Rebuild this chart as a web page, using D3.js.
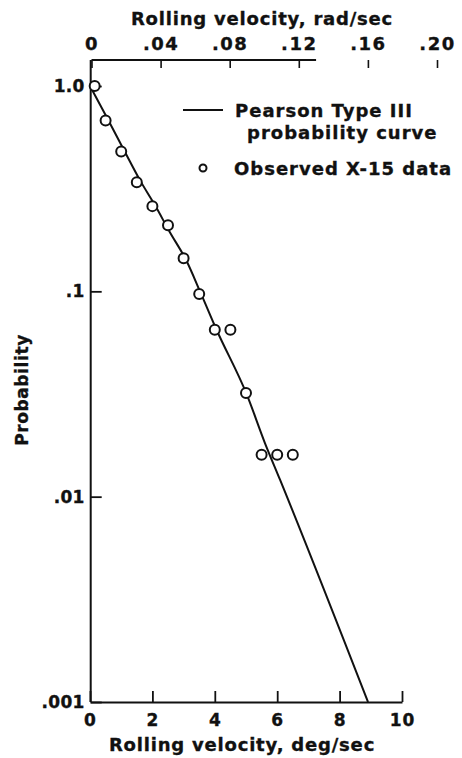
<!DOCTYPE html>
<html><head><meta charset="utf-8">
<script src="https://cdn.jsdelivr.net/npm/d3@7"></script>
<style>
body{margin:0;background:#fff}
text{font-family:"DejaVu Sans",sans-serif;font-weight:bold;fill:#111;stroke:#111;stroke-width:0.35px}
</style>
</head><body><svg id="c" width="462" height="758"></svg>
<script>
// Observed X-15 data (rolling velocity deg/sec, probability)
const obsDeg  = [0.15, 0.5, 1.0, 1.5, 2.0, 2.5, 3.0, 3.5, 4.0, 4.5, 5.0, 5.5, 6.0, 6.5];
const obsProb = [1.0, 0.68, 0.48, 0.34, 0.26, 0.21, 0.145, 0.097, 0.065, 0.065, 0.032, 0.016, 0.016, 0.016];
// Pearson Type III probability curve
const curveDeg  = [0, 0.55, 1.12, 1.6, 2.08, 2.56, 3.08, 3.55, 4.06, 5.03, 5.61, 6.09, 8.91];
const curveProb = [1.0, 0.698, 0.477, 0.348, 0.263, 0.194, 0.142, 0.098, 0.0648, 0.0313, 0.0182, 0.0121, 0.001];
// ticks
const bottomTicks = [0, 2, 4, 6, 8, 10];
const topTicks = [0, 0.04, 0.08, 0.12, 0.16, 0.20];
const topTickLabels = ["0", ".04", ".08", ".12", ".16", ".20"];
const yTicks = [1, 0.1, 0.01, 0.001];
const yTickLabels = ["1.0", ".1", ".01", ".001"];
const legendLabels = ["Pearson Type III", "probability curve", "Observed X-15 data"];

const svg = d3.select("#c");
const x = d3.scaleLinear().domain([0, 10]).range([90, 402]);
const xTop = d3.scaleLinear().domain([0, 0.20]).range([91.5, 437]);
const y = d3.scaleLog().domain([0.001, 1]).range([702, 86]);
const stroke = "#111";

// bottom axis
const gB = svg.append("g").attr("transform", `translate(0,${y(0.001)})`)
  .call(d3.axisBottom(x).tickValues(bottomTicks).tickSizeInner(-11).tickSizeOuter(0).tickPadding(12).tickFormat(d3.format("d")));
gB.select(".domain").attr("stroke", stroke).attr("stroke-width", 2);
gB.selectAll(".tick line").attr("stroke", stroke).attr("stroke-width", 1.8);
gB.selectAll(".tick text").attr("font-size", 17).attr("fill", stroke).style("letter-spacing", "1px");

// top axis
const gT = svg.append("g").attr("transform", "translate(0,60)")
  .call(d3.axisTop(xTop).tickValues(topTicks).tickSizeInner(-8).tickSizeOuter(0).tickPadding(10.5)
    .tickFormat((d, i) => topTickLabels[i]));
gT.select(".domain").remove();
gT.append("line").attr("x1", xTop(0)).attr("x2", xTop(0.13)).attr("y1", 0).attr("y2", 0)
  .attr("stroke", stroke).attr("stroke-width", 1.8);
gT.selectAll(".tick line").attr("stroke", stroke).attr("stroke-width", 1.6);
gT.selectAll(".tick text").attr("font-size", 18).attr("fill", stroke).style("letter-spacing", "1.5px");

// left axis
const gL = svg.append("g").attr("transform", `translate(${x(0) + 0.7},0)`)
  .call(d3.axisLeft(y).tickValues(yTicks).tickSizeInner(-11).tickSizeOuter(0).tickPadding(6)
    .tickFormat((d, i) => yTickLabels[i]));
gL.select(".domain").remove();
gL.append("line").attr("x1", 0).attr("x2", 0).attr("y1", 60).attr("y2", y(0.001))
  .attr("stroke", stroke).attr("stroke-width", 2);
gL.selectAll(".tick line").attr("stroke", stroke).attr("stroke-width", 1.8);
gL.selectAll(".tick text").attr("font-size", 17).attr("fill", stroke).style("letter-spacing", "0.3px");

// titles
svg.append("text").attr("x", 262).attr("y", 25).attr("text-anchor", "middle")
  .attr("font-size", 18).style("letter-spacing", "0.8px").text("Rolling velocity, rad/sec");
svg.append("text").attr("x", 242).attr("y", 751).attr("text-anchor", "middle")
  .attr("font-size", 18).style("letter-spacing", "0.8px").text("Rolling velocity, deg/sec");
svg.append("text").attr("transform", "translate(28,390) rotate(-90)").attr("text-anchor", "middle")
  .attr("font-size", 17).style("letter-spacing", "0.6px").text("Probability");

// curve
const curveData = curveDeg.map((d, i) => [d, curveProb[i]]);
svg.append("path").datum(curveData)
  .attr("d", d3.line().x(d => x(d[0])).y(d => y(d[1])).curve(d3.curveMonotoneX))
  .attr("fill", "none").attr("stroke", stroke).attr("stroke-width", 2);

// observed points
const obs = obsDeg.map((d, i) => [d, obsProb[i]]);
svg.append("g").selectAll("circle").data(obs).join("circle")
  .attr("cx", d => x(d[0])).attr("cy", d => y(d[1])).attr("r", 5)
  .attr("fill", "#fff").attr("stroke", stroke).attr("stroke-width", 2);

// legend
svg.append("line").attr("x1", 183).attr("x2", 223).attr("y1", 110).attr("y2", 110)
  .attr("stroke", stroke).attr("stroke-width", 2);
svg.append("text").attr("x", 235).attr("y", 116.5).attr("font-size", 18).style("letter-spacing", "1px").text(legendLabels[0]);
svg.append("text").attr("x", 247).attr("y", 138.5).attr("font-size", 18).style("letter-spacing", "1px").text(legendLabels[1]);
svg.append("circle").attr("cx", 203).attr("cy", 168).attr("r", 3.5)
  .attr("fill", "#fff").attr("stroke", stroke).attr("stroke-width", 2);
svg.append("text").attr("x", 234).attr("y", 174.5).attr("font-size", 18).style("letter-spacing", "1px").text(legendLabels[2]);
</script>
</body></html>
